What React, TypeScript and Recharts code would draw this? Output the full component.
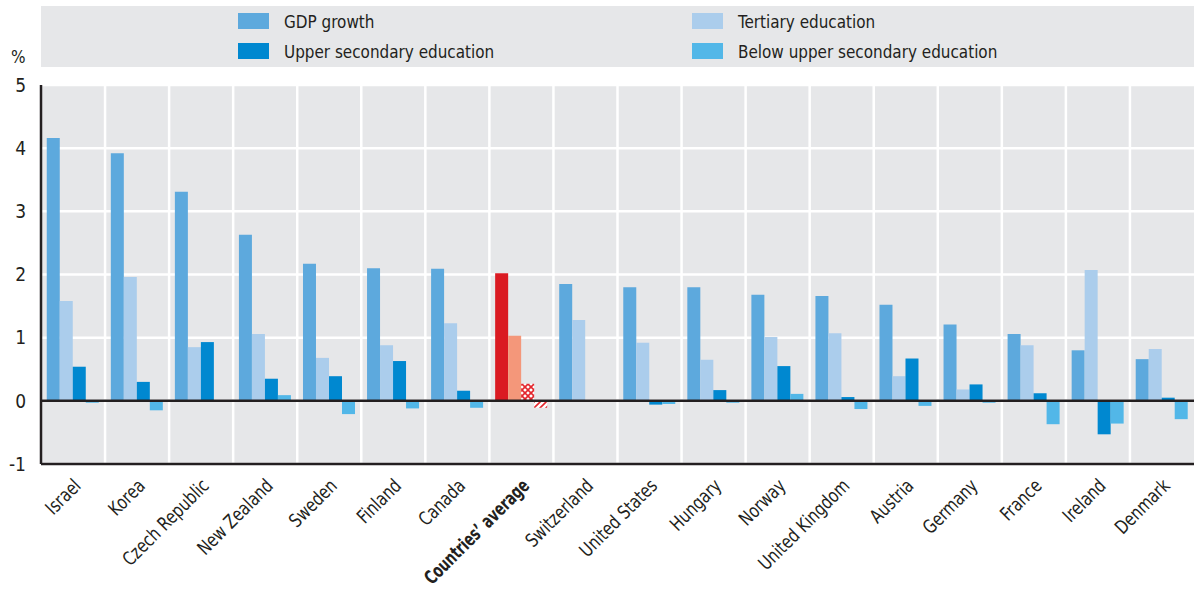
import React from 'react';
import { BarChart, Bar, XAxis, YAxis, CartesianGrid, ReferenceLine, Cell } from 'recharts';

const countries = [
  'Israel', 'Korea', 'Czech Republic', 'New Zealand', 'Sweden', 'Finland', 'Canada',
  'Countries\u2019 average', 'Switzerland', 'United States', 'Hungary', 'Norway',
  'United Kingdom', 'Austria', 'Germany', 'France', 'Ireland', 'Denmark',
];
const gdpGrowth = [4.16, 3.92, 3.31, 2.63, 2.17, 2.1, 2.09, 2.02, 1.85, 1.8, 1.8, 1.68, 1.66, 1.52, 1.21, 1.06, 0.8, 0.66];
const tertiary = [1.58, 1.96, 0.85, 1.06, 0.68, 0.88, 1.23, 1.03, 1.28, 0.92, 0.65, 1.01, 1.07, 0.39, 0.18, 0.88, 2.07, 0.82];
const upperSecondary = [0.54, 0.3, 0.93, 0.35, 0.39, 0.63, 0.16, 0.27, 0, -0.06, 0.17, 0.55, 0.06, 0.67, 0.26, 0.12, -0.53, 0.05];
const belowUpperSecondary = [-0.03, -0.15, 0, 0.09, -0.21, -0.12, -0.11, -0.11, 0, -0.05, -0.03, 0.11, -0.13, -0.08, -0.03, -0.37, -0.36, -0.29];
const yTicks = [-1, 0, 1, 2, 3, 4, 5];

const AVG = 'Countries\u2019 average';
const FONT = "'Liberation Sans Narrow', 'DejaVu Sans Condensed', 'Arial Narrow', sans-serif";
const TEXT = '#231F20';
const BG = '#E6E7E9';

const series = [
  { key: 'gdp', name: 'GDP growth', color: '#5DA9DD', avg: '#DA1A22' },
  { key: 'tertiary', name: 'Tertiary education', color: '#ABCDEC', avg: '#F4977A' },
  { key: 'upper', name: 'Upper secondary education', color: '#0088D0', avg: 'url(#avgCross)' },
  { key: 'below', name: 'Below upper secondary education', color: '#52B7E8', avg: 'url(#avgDiag)' },
];

const data = countries.map((c, i) => ({
  country: c,
  gdp: gdpGrowth[i],
  tertiary: tertiary[i],
  upper: upperSecondary[i],
  below: belowUpperSecondary[i],
}));

// condensed look: squeeze the text along its own direction
const CountryTick = (props: any) => {
  const { x, y, payload } = props;
  const bold = payload.value === AVG;
  return (
    <text
      x={0}
      y={0}
      textAnchor="end"
      transform={`translate(${x + 9}, ${y + 15}) rotate(-45) scale(${bold ? 0.76 : 0.87}, 1)`}
      fontFamily={FONT}
      fontSize={19}
      fontWeight={bold ? 'bold' : 'normal'}
      fill={TEXT}
    >
      {payload.value}
    </text>
  );
};

const legendItems = [
  { ...series[0], left: 238, top: 13 },
  { ...series[2], left: 238, top: 43 },
  { ...series[1], left: 692, top: 13 },
  { ...series[3], left: 692, top: 43 },
];

export default function App() {
  const n = countries.length;
  return (
    <div style={{ position: 'absolute', left: 0, top: 0, width: 1194, height: 593, background: '#fff', fontFamily: FONT }}>
      <svg width={0} height={0} style={{ position: 'absolute' }}>
        <defs>
          <pattern id="avgCross" width="6" height="6" patternUnits="userSpaceOnUse">
            <rect width="6" height="6" fill="#fff" />
            <path d="M0,0 L6,6 M6,0 L0,6" stroke="#E3262D" strokeWidth="1.6" />
          </pattern>
          <pattern id="avgDiag" width="6" height="6" patternUnits="userSpaceOnUse">
            <rect width="6" height="6" fill="#fff" />
            <path d="M0,6 L6,0 M-1,1 L1,-1 M5,7 L7,5" stroke="#E3262D" strokeWidth="1.6" />
          </pattern>
        </defs>
      </svg>

      <div style={{ position: 'absolute', left: 41, top: 6, width: 1153, height: 61, background: BG }} />
      {legendItems.map((it) => (
        <div key={it.key} style={{ position: 'absolute', left: it.left, top: it.top, display: 'flex', alignItems: 'center', height: 16 }}>
          <div style={{ width: 31, height: 16, background: it.color }} />
          <span
            style={{
              marginLeft: 15,
              fontSize: 18,
              color: TEXT,
              whiteSpace: 'nowrap',
              display: 'inline-block',
              transform: 'scaleX(0.94)',
              transformOrigin: 'left center',
            }}
          >
            {it.name}
          </span>
        </div>
      ))}
      <div style={{ position: 'absolute', left: 11, top: 47, fontSize: 17, color: TEXT }}>%</div>

      <div style={{ position: 'absolute', left: 0, top: 0 }}>
        <BarChart
          width={1194}
          height={593}
          data={data}
          margin={{ top: 85, right: 0, left: 0, bottom: 0 }}
          barCategoryGap="9%"
          barGap={0}
        >
          <CartesianGrid
            fill={BG}
            stroke="#fff"
            strokeWidth={2.5}
            verticalCoordinatesGenerator={({ offset }: any) =>
              Array.from({ length: n - 1 }, (_, i) => offset.left + ((i + 1) * offset.width) / n)
            }
          />
          <XAxis
            dataKey="country"
            interval={0}
            height={129}
            tick={<CountryTick />}
            tickLine={false}
            axisLine={{ stroke: TEXT, strokeWidth: 2.5 }}
          />
          <YAxis
            width={41}
            domain={[-1, 5]}
            ticks={yTicks}
            interval={0}
            tickSize={0}
            tickMargin={15}
            tickLine={false}
            axisLine={{ stroke: TEXT, strokeWidth: 2.5 }}
            tick={{ fontFamily: FONT, fontSize: 19, fill: TEXT }}
          />
          {series.map((s) => (
            <Bar key={s.key} dataKey={s.key} name={s.name} fill={s.color} isAnimationActive={false}>
              {data.map((d) => (
                <Cell key={d.country} fill={d.country === AVG ? s.avg : s.color} />
              ))}
            </Bar>
          ))}
          <ReferenceLine y={0} stroke={TEXT} strokeWidth={2.5} />
        </BarChart>
      </div>
    </div>
  );
}
